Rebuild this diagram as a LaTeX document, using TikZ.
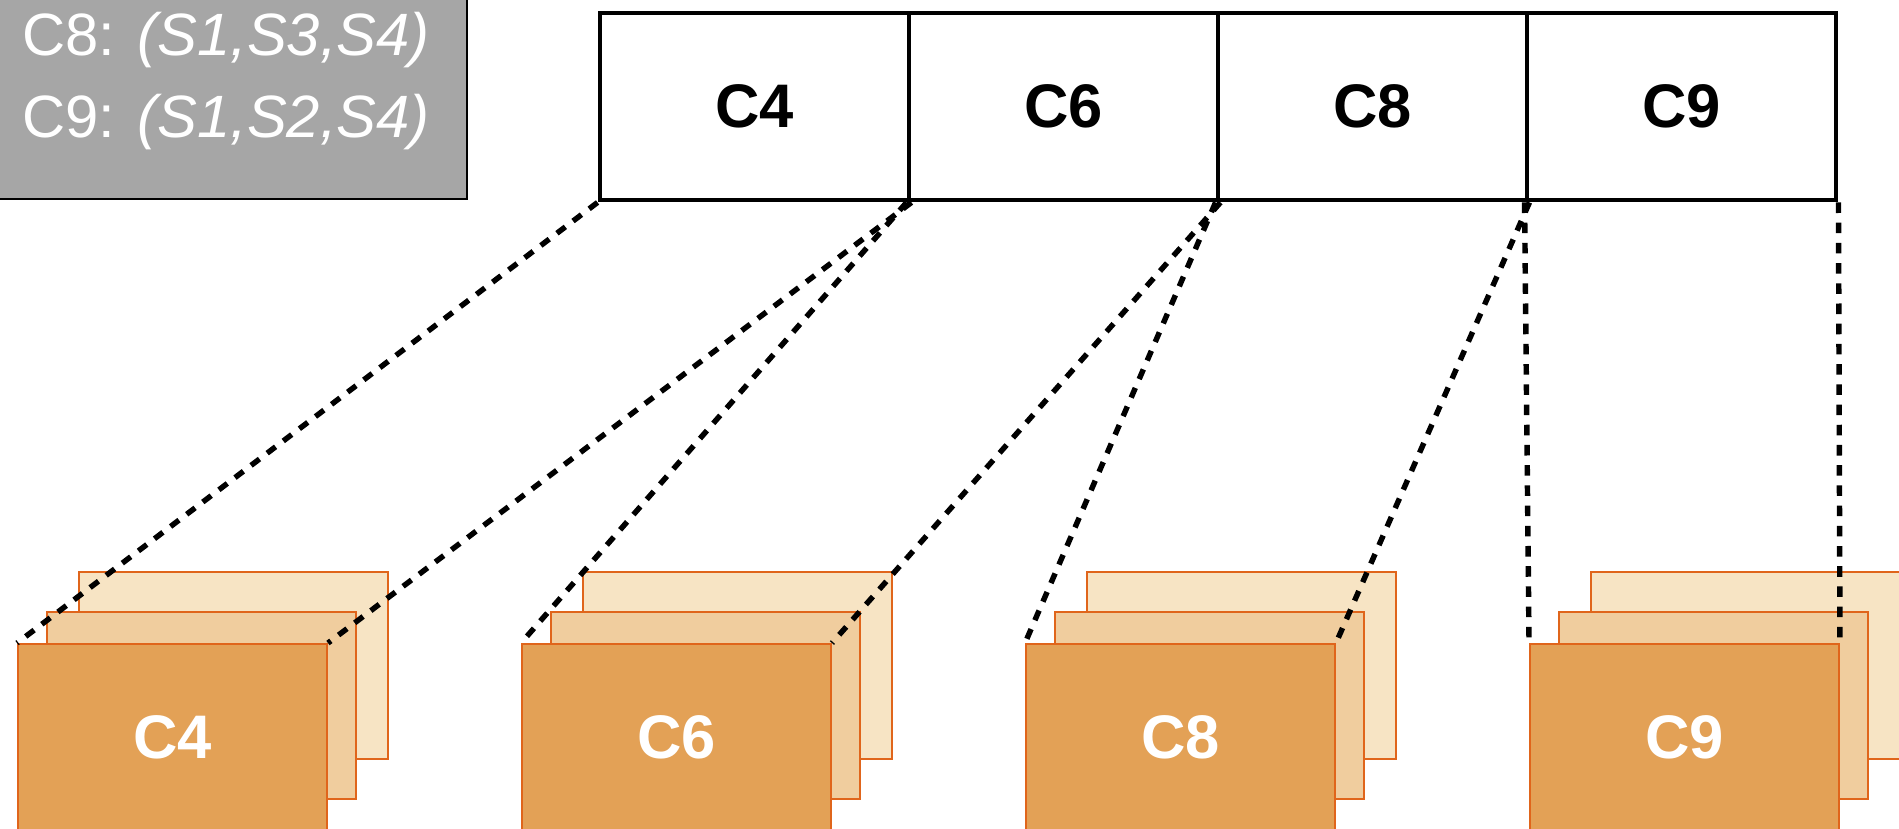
\documentclass[tikz,border=0pt]{standalone}
\usepackage{fontspec}
\setmainfont{Liberation Sans}
\usetikzlibrary{positioning}
\definecolor{legendgray}{HTML}{A6A6A6}
\definecolor{sheetedge}{HTML}{E0651B}
\definecolor{sheetback}{HTML}{F7E4C4}
\definecolor{sheetmid}{HTML}{F0CD9E}
\definecolor{sheetfront}{HTML}{E3A156}
\tikzset{
	topcell/.style={draw, rectangle, line width=2.8pt, minimum width=6.18cm, minimum height=3.74cm,
		inner sep=0pt, text centered, font=\fontsize{35}{42}\selectfont\bfseries},
	sheet/.style={draw=sheetedge, rectangle, line width=1.1pt, minimum width=6.18cm,
		minimum height=3.74cm, inner sep=0pt},
	frontsheet/.style={sheet, fill=sheetfront, text=white, font=\fontsize{35}{42}\selectfont\bfseries},
	midsheet/.style={sheet, fill=sheetmid},
	backsheet/.style={sheet, fill=sheetback},
	legendtext/.style={text=white, anchor=west, inner sep=0pt, font=\fontsize{34}{41}\selectfont},
	link/.style={dash pattern=on 6pt off 5.5pt, line width=3.1pt}
}
\begin{document}
\begin{tikzpicture}
		\useasboundingbox (0,0) rectangle (37.98,-16.58);
		
		%Legend
		\node (legend) at (4.57,-1.89) [draw, rectangle, line width=0.8pt, fill=legendgray,
		minimum width=9.54cm, minimum height=4.18cm, inner sep=0pt]{};
		\node (rowCEight) at (0.44,-0.8) [legendtext]{C8: \textit{(S1,S3,S4)}};
		\node (rowCNine) at (0.44,-2.44) [legendtext]{C9: \textit{(S1,S2,S4)}};
		
		%Top row
		\node (topC4) at (15.09,-2.13) [topcell]{C4};
		\node (topC6) at (21.27,-2.13) [topcell]{C6};
		\node (topC8) at (27.45,-2.13) [topcell]{C8};
		\node (topC9) at (33.63,-2.13) [topcell]{C9};
		
		%Stacks
		\node (backC4) at (4.67,-13.31) [backsheet]{};
		\node (midC4) at (4.03,-14.11) [midsheet]{};
		\node (frontC4) at (3.45,-14.75) [frontsheet]{C4};
		
		\node (backC6) at (14.75,-13.31) [backsheet]{};
		\node (midC6) at (14.11,-14.11) [midsheet]{};
		\node (frontC6) at (13.53,-14.75) [frontsheet]{C6};
		
		\node (backC8) at (24.83,-13.31) [backsheet]{};
		\node (midC8) at (24.19,-14.11) [midsheet]{};
		\node (frontC8) at (23.61,-14.75) [frontsheet]{C8};
		
		\node (backC9) at (34.91,-13.31) [backsheet]{};
		\node (midC9) at (34.27,-14.11) [midsheet]{};
		\node (frontC9) at (33.69,-14.75) [frontsheet]{C9};
		
		%Links
		\draw[link] (topC4.south west) -- (frontC4.north west);
		\draw[link] (topC4.south east) -- (frontC4.north east);
		\draw[link] (topC6.south west) -- (frontC6.north west);
		\draw[link] (topC6.south east) -- (frontC6.north east);
		\draw[link] (topC8.south west) -- (frontC8.north west);
		\draw[link] (topC8.south east) -- (frontC8.north east);
		\draw[link] (topC9.south west) -- (frontC9.north west);
		\draw[link] (topC9.south east) -- (frontC9.north east);
		
\end{tikzpicture}
\end{document}
